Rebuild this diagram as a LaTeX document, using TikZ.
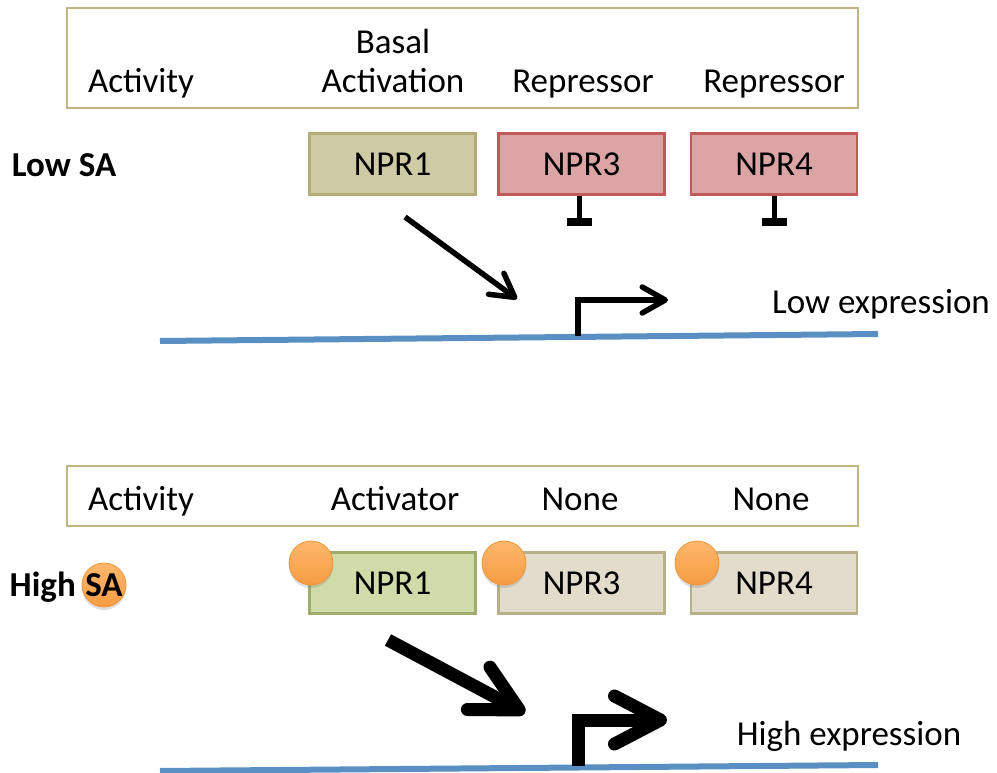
\documentclass[tikz,border=0pt]{standalone}
\usepackage{fontspec}
\setmainfont{Carlito}
\usetikzlibrary{arrows.meta,shadows}
\definecolor{frameol}{RGB}{192,182,132}
\definecolor{npronefill}{RGB}{205,202,166}
\definecolor{nproneline}{RGB}{180,172,118}
\definecolor{represfill}{RGB}{220,165,165}
\definecolor{represline}{RGB}{192,90,88}
\definecolor{actfill}{RGB}{207,220,170}
\definecolor{actline}{RGB}{160,172,110}
\definecolor{nonefill}{RGB}{225,220,204}
\definecolor{noneline}{RGB}{184,176,134}
\definecolor{dnablue}{RGB}{90,143,196}
\definecolor{saorangetop}{RGB}{252,184,108}
\definecolor{saorangebot}{RGB}{247,155,66}
\definecolor{saline}{RGB}{240,150,60}
\tikzset{
  txt/.style={font=\fontsize{35}{40}\selectfont, inner sep=0pt, anchor=base},
  boldtxt/.style={txt, font=\fontsize{35}{40}\selectfont\bfseries},
  actbox/.style={draw=frameol, line width=2.5pt, minimum width=791pt, minimum height=100pt, inner sep=0pt},
  protbox/.style={line width=2.5pt, minimum width=166pt, minimum height=61pt, inner sep=0pt, font=\fontsize{35}{40}\selectfont},
  saball/.style={circle, top color=saorangetop, bottom color=saorangebot, draw=saline, line width=0.8pt, minimum size=44pt, inner sep=0pt,
    drop shadow={opacity=0.25, shadow xshift=0pt, shadow yshift=-3pt}},
  dna/.style={draw=dnablue, line width=6pt},
  thinarrow/.style={line width=5.5pt, -{Straight Barb[round, length=23pt, width=26pt, line width=5.5pt]}},
  thickarrow/.style={line width=13pt, -{Straight Barb[round, length=46pt, width=48pt, line width=13pt]}},
  inhib/.style={line width=5pt, -{Bar[width=25pt, line width=8pt]}},
}
\begin{document}
\begin{tikzpicture}[x=1pt, y=-1pt]
\useasboundingbox (0,0) rectangle (997,773);
% ---------- Low SA panel ----------
\node[actbox] (topbox) at (462.5,58) {};
\node[txt] (act1) at (141,93) {Activity};
\node[txt] (basal) at (393,54) {Basal};
\node[txt] (activation) at (393,93) {Activation};
\node[txt] (rep3) at (583,93) {Repressor};
\node[txt] (rep4) at (774,93) {Repressor};
\node[boldtxt] (lowsa) at (64,177) {Low SA};
\node[protbox, fill=npronefill, draw=nproneline] (npr1a) at (392.5,164) {NPR1};
\node[protbox, fill=represfill, draw=represline] (npr3a) at (581.5,164) {NPR3};
\node[protbox, fill=represfill, draw=represline] (npr4a) at (774,164) {NPR4};
\coordinate (bar3) at (579,226);
\coordinate (bar4) at (774,226);
\draw[inhib] (npr3a.south -| bar3) -- (bar3);
\draw[inhib] (npr4a.south) -- (bar4);
\coordinate (dnaAl) at (160,341);
\coordinate (dnaAr) at (878,334);
\draw[dna] (dnaAl) -- (dnaAr);
\coordinate (arrAs) at (405,217);
\coordinate (arrAe) at (517,299);
\draw[thinarrow] (arrAs) -- (arrAe);
\coordinate (promAb) at (578,336);
\coordinate (promAc) at (578,300);
\coordinate (promAe) at (668,300);
\draw[thinarrow] (promAb) -- (promAc) -- (promAe);
\node[txt] (lowexp) at (881,313) {Low expression};
% ---------- High SA panel ----------
\node[actbox, minimum height=60pt] (botbox) at (462.5,496) {};
\node[txt] (act2) at (141,510) {Activity};
\node[txt] (activator) at (395,510) {Activator};
\node[txt] (none3) at (580,510) {None};
\node[txt] (none4) at (771,510) {None};
\node[boldtxt, anchor=base east] (high) at (76,596) {High};
\node[saball] (saA) at (104,585) {};
\node[boldtxt] (satext) at (104,596) {SA};
\node[protbox, fill=actfill, draw=actline] (npr1b) at (392.5,583) {NPR1};
\node[protbox, fill=nonefill, draw=noneline] (npr3b) at (581.5,583) {NPR3};
\node[protbox, fill=nonefill, draw=noneline] (npr4b) at (774,583) {NPR4};
\node[saball] (sa1) at (311,563) {};
\node[saball] (sa3) at (504,563) {};
\node[saball] (sa4) at (697,563) {};
\coordinate (dnaBl) at (160,771);
\coordinate (dnaBr) at (878,765);
\draw[dna] (dnaBl) -- (dnaBr);
\coordinate (arrBs) at (388,640);
\coordinate (arrBe) at (525,713);
\draw[thickarrow] (arrBs) -- (arrBe);
\coordinate (promBb) at (578,766);
\coordinate (promBc) at (578,720);
\coordinate (promBe) at (667,720);
\draw[thickarrow] (promBb) -- (promBc) -- (promBe);
\node[txt] (highexp) at (849,745) {High expression};
\end{tikzpicture}
\end{document}
